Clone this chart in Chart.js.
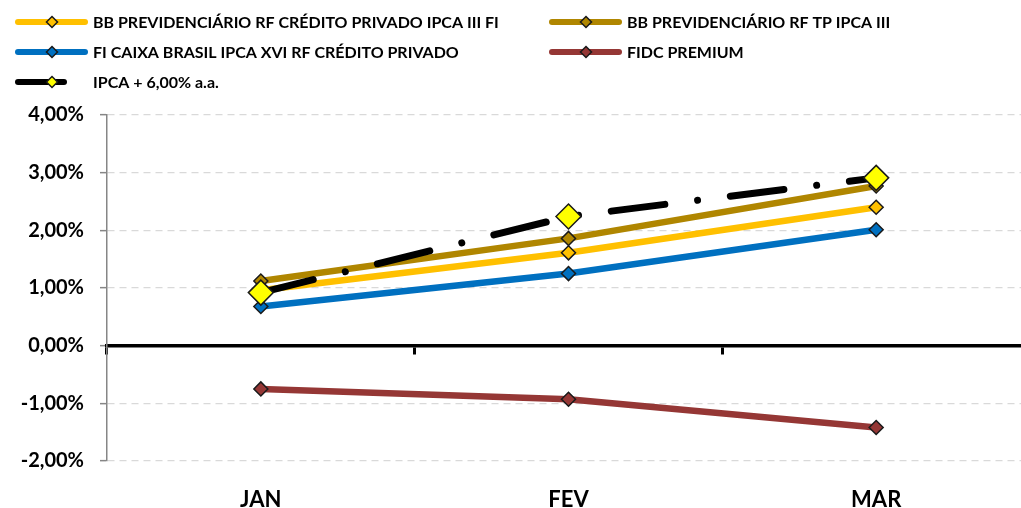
<!DOCTYPE html>
<html>
<head>
<meta charset="utf-8">
<script src="https://cdn.jsdelivr.net/npm/chart.js@4/dist/chart.umd.min.js"></script>
<style>
  html, body { margin: 0; padding: 0; background: #fff; overflow: hidden; }
  #wrap { width: 1021px; height: 508px; overflow: hidden; position: relative; }
</style>
</head>
<body>
<div id="wrap"><canvas id="chart" width="1044" height="508"></canvas></div>
<script>
// --- data ---
const months = ['JAN', 'FEV', 'MAR'];
const bbCredPriv = [0.96, 1.61, 2.40];
const bbTp = [1.12, 1.86, 2.77];
const caixaXvi = [0.68, 1.25, 2.01];
const fidcPremium = [-0.75, -0.93, -1.42];
const ipcaMeta = [0.92, 2.24, 2.91];
const yTicks = [-2, -1, 0, 1, 2, 3, 4];

const FONT = 'Lato, "Open Sans", sans-serif';
const ipcaDash = [54, 33, 0.01, 33];

function series(label, data, color, order) {
  return {
    label: label,
    data: data,
    borderColor: color,
    backgroundColor: color,
    borderWidth: 6.5,
    pointStyle: 'rectRot',
    pointRadius: 7,
    pointHoverRadius: 7,
    pointBackgroundColor: color,
    pointBorderColor: '#1a1a1a',
    pointBorderWidth: 1.5,
    tension: 0,
    order: order
  };
}

const datasets = [
  series('BB PREVIDENCIÁRIO RF CRÉDITO PRIVADO IPCA III FI', bbCredPriv, '#FFC000', 5),
  series('BB PREVIDENCIÁRIO RF TP IPCA III', bbTp, '#B08600', 3),
  series('FI CAIXA BRASIL IPCA XVI RF CRÉDITO PRIVADO', caixaXvi, '#0070C0', 4),
  series('FIDC PREMIUM', fidcPremium, '#953735', 2),
  Object.assign(series('IPCA + 6,00% a.a.', ipcaMeta, '#000000', 0), {
    borderDash: ipcaDash,
    borderCapStyle: 'round',
    borderWidth: 7,
    pointRadius: 12.5,
    pointHoverRadius: 12.5,
    pointBackgroundColor: '#FFFF00'
  })
];

// legend drawn on canvas in two columns like the original
const legendSlots = [
  { x: 15, y: 22 }, { x: 549, y: 22 },
  { x: 15, y: 52 }, { x: 549, y: 52 },
  { x: 15, y: 82 }
];

const legendPlugin = {
  id: 'twoColLegend',
  afterDraw(chart) {
    const ctx = chart.ctx;
    chart.data.datasets.forEach((ds, i) => {
      const s = legendSlots[i];
      ctx.save();
      ctx.lineWidth = 6;
      ctx.lineCap = 'round';
      ctx.strokeStyle = ds.borderColor;
      if (ds.borderDash) ctx.setLineDash([46, 40]);
      ctx.beginPath();
      ctx.moveTo(s.x + 3, s.y);
      ctx.lineTo(s.x + 70, s.y);
      ctx.stroke();
      ctx.setLineDash([]);
      // diamond
      const cx = s.x + 37, r = 5.5;
      ctx.beginPath();
      ctx.moveTo(cx, s.y - r);
      ctx.lineTo(cx + r, s.y);
      ctx.lineTo(cx, s.y + r);
      ctx.lineTo(cx - r, s.y);
      ctx.closePath();
      ctx.fillStyle = ds.pointBackgroundColor;
      ctx.fill();
      ctx.lineWidth = 1.5;
      ctx.strokeStyle = '#1a1a1a';
      ctx.stroke();
      ctx.fillStyle = '#000';
      ctx.font = 'bold 16px ' + FONT;
      ctx.textBaseline = 'middle';
      ctx.textAlign = 'left';
      ctx.fillText(ds.label, s.x + 78, s.y + 1);
      ctx.restore();
    });
  }
};

const chart = new Chart(document.getElementById('chart'), {
  type: 'line',
  data: { labels: months, datasets: datasets },
  plugins: [legendPlugin],
  options: {
    responsive: false,
    animation: false,
    devicePixelRatio: 1,
    layout: { padding: { top: 115, right: 0, bottom: 0, left: 0 } },
    plugins: {
      legend: { display: false },
      tooltip: { enabled: false }
    },
    scales: {
      x: {
        type: 'category',
        offset: true,
        grid: { display: false },
        border: { display: false },
        ticks: {
          color: '#000',
          padding: 18,
          font: { family: FONT, size: 22, weight: 'bold' }
        },
        afterFit(scale) { scale.height = 47; }
      },
      zero: {
        type: 'category',
        labels: months,
        axis: 'x',
        position: { y: 0 },
        offset: true,
        ticks: { display: false },
        grid: {
          display: true,
          offset: true,
          drawOnChartArea: false,
          drawTicks: true,
          tickLength: 7,
          tickWidth: 3,
          tickColor: '#000',
          color: '#000'
        },
        border: { display: true, color: '#000', width: 3.5 }
      },
      y: {
        min: -2,
        max: 4,
        afterBuildTicks(scale) { scale.ticks = yTicks.map(v => ({ value: v })); },
        grid: {
          color: '#d9d9d9',
          lineWidth: 1.3,
          tickLength: 7,
          tickColor: '#868686',
          tickWidth: 1.5
        },
        border: { display: true, color: '#868686', width: 1.5, dash: [7, 5] },
        ticks: {
          color: '#000',
          padding: 16,
          font: { family: FONT, size: 20, weight: 'bold' },
          callback: v => v.toFixed(2).replace('.', ',') + '%'
        },
        afterFit(scale) { scale.width = 107; }
      }
    }
  }
});
</script>
</body>
</html>
